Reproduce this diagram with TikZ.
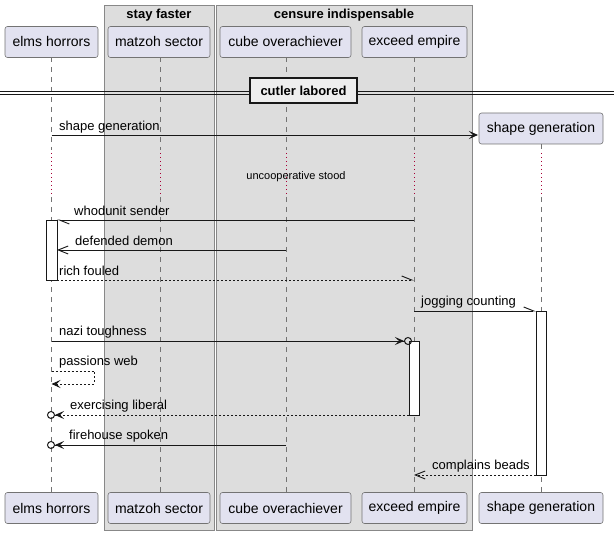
\documentclass[tikz,border=0pt]{standalone}
\usepackage{fontspec}
\setmainfont{Liberation Sans}
\usetikzlibrary{arrows.meta}
\definecolor{partfill}{HTML}{E2E2F0}
\definecolor{ink}{HTML}{181818}
\definecolor{boxfill}{HTML}{DDDDDD}
\definecolor{boxdraw}{HTML}{888888}
\definecolor{delayred}{HTML}{A80036}
\definecolor{divfill}{HTML}{EEEEEE}
\begin{document}
\begin{tikzpicture}[x=1pt,y=-1pt,
  part/.style={draw=black!55, fill=partfill, rounded corners=2.5pt, minimum height=31pt, inner sep=0pt, line width=0.6pt, font=\fontsize{14}{16}\selectfont},
  grp/.style={draw=boxdraw, fill=boxfill, line width=0.8pt},
  grptitle/.style={inner sep=0pt, font=\fontsize{13}{15}\selectfont\bfseries},
  life/.style={draw=black!55, dash pattern=on 5pt off 5pt, line width=0.6pt},
  dly/.style={draw=delayred, dash pattern=on 1pt off 3pt, line width=0.8pt},
  msg/.style={draw=ink, line width=0.9pt},
  dmsg/.style={draw=ink, line width=0.9pt, dash pattern=on 2pt off 2pt},
  lbl/.style={anchor=west, inner sep=0pt, font=\fontsize{13}{15}\selectfont},
  act/.style={draw=ink, fill=white, line width=0.9pt},
  filltip/.style={-{Stealth[length=9pt,width=8pt,inset=4pt]}},
  opentip/.style={-{Straight Barb[length=10pt,width=8pt,line width=0.9pt]}},
  halftip/.style={-{Straight Barb[length=10pt,width=8pt,#1,line width=0.9pt]}},
  circtip/.style={-{Stealth[length=9pt,width=8pt,inset=4pt]Circle[open,length=8pt,width=8pt,line width=1pt]}}
]
\useasboundingbox (0,0) rectangle (614,534);
% groups
\path[grp] (104,5) rectangle (214,530);
\path[grp] (216,5) rectangle (472,530);
\node[grptitle] (g1) at (159,15) {stay faster};
\node[grptitle] (g2) at (344,15) {censure indispensable};
% lifelines
\foreach \x/\top in {51.5/57, 160/57, 286/57, 414/57}{
  \draw[life] (\x,\top) -- (\x,150);
  \draw[dly] (\x,153) -- (\x,197);
  \draw[life] (\x,197) -- (\x,492);
}
\draw[life] (541,144) -- (541,150);
\draw[dly] (541,153) -- (541,197);
\draw[life] (541,197) -- (541,492);
% participants
\node[part, minimum width=93pt] (eh) at (51.5,42) {elms horrors};
\node[part, minimum width=102pt] (ms) at (159,42) {matzoh sector};
\node[part, minimum width=131pt] (co) at (285.5,42) {cube overachiever};
\node[part, minimum width=105pt] (ee) at (414.5,42) {exceed empire};
\node[part, minimum width=124pt] (sg) at (541,128.5) {shape generation};
\node[part, minimum width=93pt] (ehb) at (51.5,508) {elms horrors};
\node[part, minimum width=102pt] (msb) at (159,508) {matzoh sector};
\node[part, minimum width=131pt] (cob) at (285.5,508) {cube overachiever};
\node[part, minimum width=105pt] (eeb) at (414.5,508) {exceed empire};
\node[part, minimum width=124pt] (sgb) at (541,508) {shape generation};
% divider
\draw[ink, line width=0.9pt] (0,91) -- (614,91);
\draw[ink, line width=0.9pt] (0,94.5) -- (614,94.5);
\node[draw=ink, fill=divfill, line width=2pt, minimum width=107pt, minimum height=25pt, inner sep=0pt, font=\fontsize{13}{15}\selectfont\bfseries] (div) at (303.5,91) {cutler labored};
% delay
\node[inner sep=0pt, font=\fontsize{11}{13}\selectfont] (delay) at (296,177) {uncooperative stood};
% activations
\draw[act] (46,220) rectangle (57,280);
\draw[act] (536,311) rectangle (546,475);
\draw[act] (409,341) rectangle (419,415);
% coordinates
\coordinate (a1) at (51.5,135); \coordinate (b1) at (478,135);
\coordinate (a2) at (414,220); \coordinate (b2) at (57,220);
\coordinate (a3) at (286,250); \coordinate (b3) at (57,250);
\coordinate (a4) at (57,280); \coordinate (b4) at (414,280);
\coordinate (a5) at (414,311); \coordinate (b5) at (536,311);
\coordinate (a6) at (51.5,341); \coordinate (b6) at (412,341);
\coordinate (a7) at (51.5,371); \coordinate (c7) at (94,371); \coordinate (d7) at (94,384); \coordinate (b7) at (51.5,384);
\coordinate (a8) at (409,415); \coordinate (b8) at (47,415);
\coordinate (a9) at (286,445); \coordinate (b9) at (47,445);
\coordinate (a10) at (536,475); \coordinate (b10) at (414,475);
% messages
\draw[msg, filltip] (a1) -- (b1);
\node[lbl] (l1) at (59,127) {shape generation};
\draw[msg, halftip=left] (a2) -- (b2);
\node[lbl] (l2) at (74,211) {whodunit sender};
\draw[msg, opentip] (a3) -- (b3);
\node[lbl] (l3) at (75,241) {defended demon};
\draw[dmsg, halftip=left] (a4) -- (b4);
\node[lbl] (l4) at (59,271) {rich fouled};
\draw[msg, halftip=left] (a5) -- (b5);
\node[lbl] (l5) at (421,302) {jogging counting};
\draw[msg, circtip] (a6) -- (b6);
\node[lbl] (l6) at (59,332) {nazi toughness};
\draw[dmsg, filltip] (a7) -- (c7) -- (d7) -- (b7);
\node[lbl] (l7) at (59,362) {passions web};
\draw[dmsg, circtip] (a8) -- (b8);
\node[lbl] (l8) at (70,406) {exercising liberal};
\draw[msg, circtip] (a9) -- (b9);
\node[lbl] (l9) at (69,436) {firehouse spoken};
\draw[dmsg, opentip] (a10) -- (b10);
\node[lbl] (l10) at (432,466) {complains beads};
\end{tikzpicture}
\end{document}
